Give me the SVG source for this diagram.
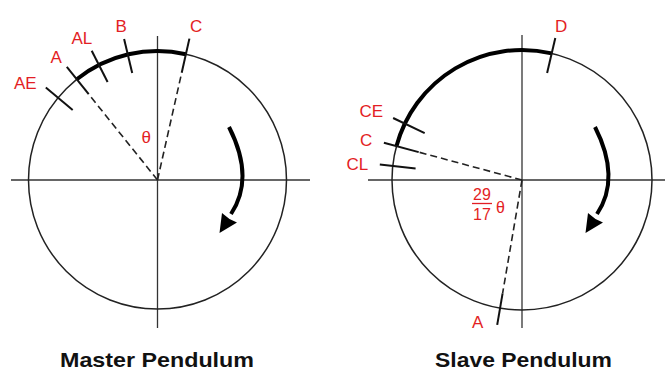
<svg xmlns="http://www.w3.org/2000/svg" width="665" height="369" viewBox="0 0 665 369">
<defs>
<style>
.axis{stroke:#333;stroke-width:1.3;fill:none}
.circ{stroke:#222;stroke-width:1.5;fill:none}
.thick{stroke:#000;stroke-width:4;fill:none}
.tick{stroke:#111;stroke-width:2;fill:none}
.dash{stroke:#222;stroke-width:1.6;fill:none;stroke-dasharray:7 4}
.lbl{font-family:"Liberation Sans",Arial,sans-serif;font-size:17px;fill:#e31e24}
.frac{font-family:"Liberation Sans",Arial,sans-serif;font-size:16px;fill:#e31e24}
.title{font-family:"Liberation Sans",Arial,sans-serif;font-size:20.5px;font-weight:bold;fill:#111}
</style>
<g id="rotArrow">
<path d="M229,127 Q255,178 231,214" style="stroke:#000;stroke-width:4;fill:none"/>
<polygon points="219.5,233 222,213 229.5,219 237,222.5" fill="#000"/>
</g>
</defs>

<g id="master">
<line class="axis" x1="11" y1="180" x2="310" y2="180"/>
<line class="axis" x1="157.5" y1="36" x2="157.5" y2="328"/>
<circle class="circ" cx="157.5" cy="180" r="129"/>
<path class="thick" d="M76.8,79.3 A129,129 0 0 1 185.9,54.2"/>
<line class="tick" x1="72.7" y1="109.9" x2="45.8" y2="87.6"/>
<line class="tick" x1="88.7" y1="94.2" x2="66.8" y2="66.8"/>
<line class="tick" x1="107.6" y1="82" x2="91.7" y2="50.8"/>
<line class="tick" x1="132.2" y1="73" x2="124.1" y2="38.9"/>
<line class="tick" x1="181.7" y1="72.7" x2="189.4" y2="38.6"/>
<line class="dash" x1="157.5" y1="180" x2="88.7" y2="94.2"/>
<line class="dash" x1="157.5" y1="180" x2="181.7" y2="72.7"/>
<use href="#rotArrow"/>
<text class="lbl" x="14" y="88.5">AE</text>
<text class="lbl" x="50.5" y="62.5">A</text>
<text class="lbl" x="71.5" y="43.5">AL</text>
<text class="lbl" x="115.5" y="31.8">B</text>
<text class="lbl" x="190" y="32">C</text>
<text class="lbl" x="141.5" y="143">θ</text>
<text class="title" x="60" y="366.5" textLength="194" lengthAdjust="spacingAndGlyphs">Master Pendulum</text>
</g>

<g id="slave">
<line class="axis" x1="368" y1="180" x2="665" y2="180"/>
<line class="axis" x1="522" y1="35" x2="522" y2="328"/>
<circle class="circ" cx="522" cy="180" r="130"/>
<path class="thick" d="M396.5,146.1 A130,130 0 0 1 551.7,53.4"/>
<line class="tick" x1="424.7" y1="133.2" x2="393.1" y2="118"/>
<line class="tick" x1="418.7" y1="152.1" x2="383.9" y2="142.7"/>
<line class="tick" x1="415.6" y1="168.4" x2="379.8" y2="164.6"/>
<line class="tick" x1="547.1" y1="72.9" x2="555.3" y2="37.9"/>
<line class="tick" x1="502.6" y1="293.4" x2="497.2" y2="324.9"/>
<line class="dash" x1="522" y1="180" x2="418.7" y2="152.1"/>
<line class="dash" x1="522" y1="180" x2="502.6" y2="293.4"/>
<use href="#rotArrow" transform="translate(366,0)"/>
<text class="lbl" x="555" y="32">D</text>
<text class="lbl" x="359.5" y="117">CE</text>
<text class="lbl" x="360" y="146">C</text>
<text class="lbl" x="346.5" y="170">CL</text>
<text class="lbl" x="472" y="328">A</text>
<text class="frac" x="482" y="200" text-anchor="middle">29</text>
<line x1="472" y1="203.5" x2="492" y2="203.5" stroke="#e31e24" stroke-width="1.3"/>
<text class="frac" x="482" y="219.5" text-anchor="middle">17</text>
<text class="frac" x="496" y="213">θ</text>
<text class="title" x="435" y="366.5" textLength="177" lengthAdjust="spacingAndGlyphs">Slave Pendulum</text>
</g>
</svg>
